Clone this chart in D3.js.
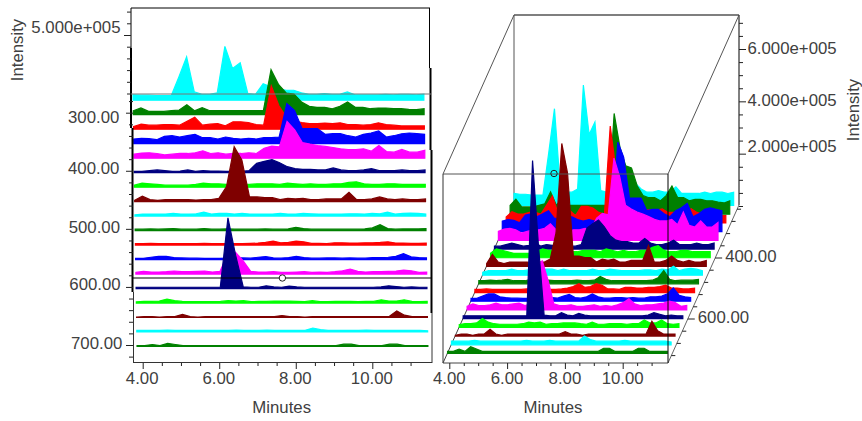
<!DOCTYPE html>
<html>
<head>
<meta charset="utf-8">
<script src="https://cdn.jsdelivr.net/npm/d3@7"></script>
<style>
  html, body { margin: 0; padding: 0; background: #fff; }
  text { font-family: "Liberation Sans", Arial, sans-serif; font-size: 16.8px; fill: #404040; }
</style>
</head>
<body>
<div id="chart"></div>
<script>
// retention time of each scan, minutes
const minutes = [3.8,4.0,4.2,4.4,4.6,4.8,5.0,5.2,5.4,5.6,5.8,6.0,6.2,6.4,6.6,6.8,7.0,7.2,7.4,7.6,
  7.8,8.0,8.2,8.4,8.6,8.8,9.0,9.2,9.4,9.6,9.8,10.0,10.2,10.4,10.6,10.8,11.0,11.2,11.4];

// m/z of each trace, back to front
const masses = [275,300,325,350,375,400,425,450,475,500,525,550,575,600,625,650,675,700];

// intensity of each trace, thousands of counts
const i275 = [46,43,43,40,40,40,200,370,71,51,51,63,460,271,319,57,51,140,114,100,85,85,63,51,51,57,51,51,71,46,46,46,46,51,46,51,51,46,51];
const i300 = [34,57,28,28,28,34,40,85,34,60,34,34,34,34,34,34,34,34,385,256,185,177,108,71,63,63,51,71,108,63,63,51,57,57,51,51,46,43,51];
const i325 = [23,43,34,34,40,40,34,68,103,34,43,48,28,63,63,57,40,34,370,200,100,70,57,48,48,51,48,54,40,40,34,40,54,40,34,28,28,28,28];
const i350 = [40,46,43,34,63,68,57,68,80,51,51,40,57,46,40,46,40,51,51,57,342,285,128,128,128,80,85,85,68,57,80,91,108,57,68,85,91,85,80];
const i375 = [34,43,46,40,28,34,40,40,46,63,40,46,34,40,40,46,40,85,103,97,314,242,134,120,108,100,91,80,74,74,80,60,108,57,51,74,51,51,68];
const i400 = [11,11,17,23,17,11,14,23,11,17,14,14,11,11,11,17,80,97,111,85,51,34,28,28,23,23,40,23,17,17,23,34,17,17,17,23,17,17,23];
const i425 = [17,34,28,23,17,17,17,17,23,34,28,28,23,23,23,23,28,28,28,23,34,28,23,28,23,23,28,28,40,46,28,23,23,28,28,23,23,23,23];
const i450 = [11,46,17,11,17,17,17,17,14,17,17,28,128,470,356,40,40,34,34,17,28,23,28,17,17,23,23,23,80,17,17,23,40,23,17,23,17,17,23];
const i475 = [11,17,17,17,17,23,17,17,20,34,17,23,23,17,23,17,17,17,17,23,17,17,23,20,17,17,17,17,20,20,17,23,20,34,17,23,26,23,17];
const i500 = [12,12,14,12,14,17,12,12,12,17,12,12,14,12,12,12,12,14,12,12,14,28,17,12,12,12,12,12,12,12,14,23,51,17,12,14,14,14,17];
const i525 = [12,12,14,12,12,12,12,12,12,14,12,12,12,12,12,14,17,23,34,20,23,34,28,14,14,12,20,20,17,17,20,20,23,28,17,17,14,14,17];
const i550 = [11,11,20,28,28,17,14,12,12,11,11,11,12,14,14,12,20,26,14,12,17,28,17,12,12,14,14,12,14,12,12,17,17,20,28,51,23,17,14];
const i575 = [14,23,17,17,20,26,20,20,23,26,17,23,170,188,114,23,17,17,20,14,14,17,20,14,17,14,20,28,43,23,17,20,20,23,26,34,28,14,17];
const i600 = [11,11,11,11,11,11,11,11,11,11,11,11,604,285,14,11,11,23,14,11,20,14,11,11,11,11,11,11,11,11,11,11,14,23,17,11,14,11,11];
const i625 = [11,14,14,17,34,20,14,12,12,12,12,14,20,17,20,12,14,14,17,17,17,14,12,20,12,12,14,14,14,12,14,14,28,17,17,28,14,12,14];
const i650 = [3,8,8,3,8,8,26,8,3,8,8,8,8,8,8,8,8,8,8,17,8,8,3,8,8,8,8,8,8,8,8,8,8,8,57,20,8,8,8];
const i675 = [14,14,14,14,17,14,14,14,14,14,14,14,14,17,14,14,14,17,14,14,14,14,14,34,20,14,14,14,14,14,17,14,14,14,14,14,14,14,11];
const i700 = [8,8,17,8,26,17,8,8,8,8,8,8,8,8,8,8,8,8,8,8,8,8,8,8,8,8,8,20,20,8,8,8,8,20,20,8,8,8,8];
const intensities = [i275,i300,i325,i350,i375,i400,i425,i450,i475,i500,i525,i550,i575,i600,i625,i650,i675,i700];

// tick values
const minuteTicks = [4,6,8,10];
const minuteMinor = [4.5,5,5.5,6.5,7,7.5,8.5,9,9.5,10.5,11];
const massTicks = [300,400,500,600,700];
const massMinor = [280,320,340,360,380,420,440,460,480,520,540,560,580,620,640,660,680,720];
const flatIntensityTicks = [500];
const flatIntensityMinor = [0,100,200,300,400,600,700];
const depthTicks = [400,600];
const depthMinor = [240,280,320,360,440,480,520,560,640,680,720];
const riseTicks = [200,400,600];
const riseMinor = [0,50,100,150,250,300,350,450,500,550,650,700];

const palette = ['#00ffff','#008000','#ff0000','#0000ff','#ff00ff','#000080','#00ff00','#7f0000'];

// the original labels do not sit quite centred on their ticks
const massLabelShift = [4, -2.4, -2, -2.7, -2];
const massLabelEnd = [119.3, 119.3, 120, 120.7, 122.3];
const riseLabelY = [146, 100, 48];

const svg = d3.select('#chart').append('svg')
  .attr('width', 862).attr('height', 421).style('display', 'block');

const mainGroup = svg.append('g');
const fmt2 = d3.format('.2f');

function expLabel(d){ return (d / 100).toFixed(3) + 'e+005'; }

function line(g, x1, y1, x2, y2, color, w){
  g.append('line').attr('x1', x1).attr('y1', y1).attr('x2', x2).attr('y2', y2)
    .attr('stroke', color).attr('stroke-width', w || 1);
}

function label(g, x, y, str, anchor){
  return g.append('text').attr('x', x).attr('y', y + 1.5).attr('text-anchor', anchor || 'middle')
    .attr('dominant-baseline', 'middle').text(str);
}

function ticksOn(g, axis, scale, values, size, tx, ty){
  const a = g.append('g').attr('transform', 'translate(' + tx + ',' + ty + ')')
    .call(axis(scale).tickValues(values).tickSize(size).tickFormat(''));
  a.select('.domain').remove();
  a.selectAll('line').attr('stroke', '#222');
}

function drawTraces(g, xOf, baseOf, riseOf){
  masses.forEach(function(m, i){
    const area = d3.area()
      .x(t => xOf(t, m))
      .y0(baseOf(m) - 0.5)
      .y1((t, j) => baseOf(m) - 0.5 - riseOf(intensities[i][j]));
    g.append('path').attr('d', area(minutes))
      .attr('fill', palette[i % palette.length])
      .attr('stroke', palette[i % palette.length])
      .attr('stroke-width', 1.2);
  });
}

//--------------------- Flat view ----------------------------------------------
const flat = mainGroup.append('g');
const flatX = d3.scaleLinear().domain([4, 10]).range([142.7, 372.3]);
const flatMass = d3.scaleLinear().domain([300, 700]).range([112.7, 345]);
const flatBase = d3.scaleLinear().domain([275, 700]).range([100.7, 347]);
const flatSkew = d3.scaleLinear().domain([275, 700]).range([-2, 2]);
const flatInt = d3.scaleLinear().domain([0, 500]).range([93.5, 35]);
const flatRise = v => flatInt(0) - flatInt(v);

drawTraces(flat, (t, m) => flatX(t) + flatSkew(m), flatBase, flatRise);

// frame, the original is drawn in three offset pieces
line(flat, 131, 8, 430, 8, '#000');
line(flat, 131, 8, 131, 48, '#000');
line(flat, 131, 48, 131, 128, '#000', 2);
line(flat, 132.5, 128, 132.5, 292, '#000', 2);
line(flat, 133.5, 292, 133.5, 363, '#333');
line(flat, 429.5, 8, 429.5, 68, '#000');
line(flat, 430.5, 68, 430.5, 150, '#000', 2);
line(flat, 431.5, 150, 431.5, 313, '#000', 2);
line(flat, 432, 313, 432, 363, '#333');
line(flat, 133, 362.5, 432, 362.5, '#333');

// cursor lines
line(flat, 131, 94, 431, 94, '#777');
line(flat, 133, 278, 432, 278, '#000');
flat.append('circle').attr('cx', flatX(7.65)).attr('cy', 278).attr('r', 3.2)
  .attr('fill', '#fff').attr('stroke', '#222');

ticksOn(flat, d3.axisLeft, flatInt, flatIntensityTicks, 7, 131, 0);
ticksOn(flat, d3.axisLeft, flatInt, flatIntensityMinor, 4, 131, 0);
ticksOn(flat, d3.axisLeft, flatMass, massTicks, 7, 133, 0);
ticksOn(flat, d3.axisLeft, flatMass, massMinor, 4, 133, 0);
ticksOn(flat, d3.axisBottom, flatX, minuteTicks, 6, 0, 363);
ticksOn(flat, d3.axisBottom, flatX, minuteMinor, 3, 0, 363);

flatIntensityTicks.forEach(d => label(flat, 120.5, flatInt(d) - 7.5, expLabel(d), 'end'));
massTicks.forEach((d, i) => label(flat, massLabelEnd[i], flatMass(d) + massLabelShift[i], fmt2(d), 'end'));
minuteTicks.forEach(d => label(flat, flatX(d) - 0.5, 378.5, fmt2(d)));
label(flat, 281.7, 407.5, 'Minutes');
label(flat, 0, 0, 'Intensity').attr('transform', 'translate(17,50) rotate(-90)');

//--------------------- 3D view ------------------------------------------------
const box = mainGroup.append('g');
const floorSkew = 0.449;
const boxX = d3.scaleLinear().domain([4, 10]).range([449.3, 622.7]);
const boxBase = d3.scaleLinear().domain([275, 700]).range([206, 354]);
const boxDepth = d3.scaleLinear().domain([400, 600]).range([258, 319]);
const boxInt = d3.scaleLinear().domain([0, 600]).range([206, 49]);
const boxRise = v => boxInt(0) - boxInt(v);

// back walls sit behind the traces
line(box, 514, 15, 739, 15, '#000', 1.2);
line(box, 514, 15, 514, 205, '#555');
line(box, 739, 15, 739, 205, '#000');
line(box, 443, 174, 514, 15, '#555');
line(box, 668, 174, 739, 15, '#555');
line(box, 443, 363, 514, 205, '#444');
line(box, 668, 363, 739, 205, '#666');

drawTraces(box, (t, m) => boxX(t) + (363 - boxBase(m)) * floorSkew, boxBase, boxRise);

line(box, 443, 174, 668, 174, '#555');
line(box, 443, 174, 443, 363, '#333');
line(box, 668, 174, 668, 363, '#000');
line(box, 443, 363, 668, 363, '#444');
box.append('circle').attr('cx', 554).attr('cy', 173.5).attr('r', 3.2)
  .attr('fill', 'none').attr('stroke', '#222');

ticksOn(box, d3.axisRight, boxInt, riseTicks, 7, 739, 0);
ticksOn(box, d3.axisRight, boxInt, riseMinor, 4, 739, 0);
ticksOn(box, d3.axisBottom, boxX, minuteTicks, 6, 0, 363);
ticksOn(box, d3.axisBottom, boxX, minuteMinor, 3, 0, 363);

// depth ticks follow the slanted floor edge
function depthTick(m, size){
  const y = boxDepth(m), x = 668 + (363 - y) * floorSkew;
  line(box, x, y, x + size, y, '#222');
}
depthTicks.forEach(m => depthTick(m, 7));
depthMinor.forEach(m => depthTick(m, 4));

riseTicks.forEach((d, i) => label(box, 747.5, riseLabelY[i], expLabel(d), 'start'));
depthTicks.forEach(d => {
  const y = boxDepth(d), x = 668 + (363 - y) * floorSkew;
  label(box, x + 10, y - 2, fmt2(d), 'start');
});
minuteTicks.forEach(d => label(box, boxX(d), 378.5, fmt2(d)));
label(box, 553, 407.5, 'Minutes');
label(box, 0, 0, 'Intensity').attr('transform', 'translate(853,110) rotate(-90)');
</script>
</body>
</html>
